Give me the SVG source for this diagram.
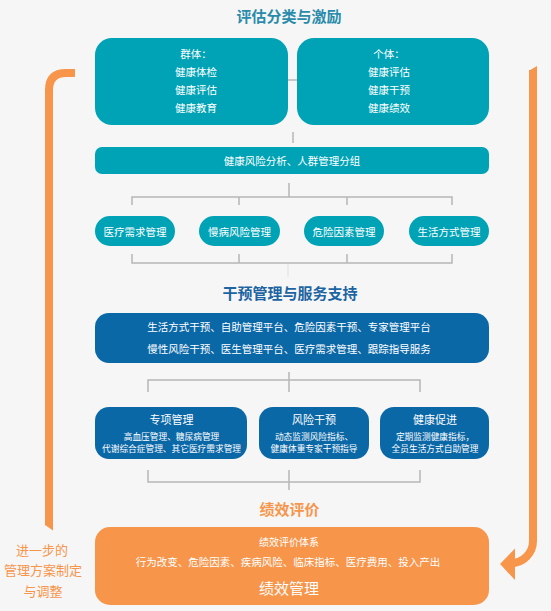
<svg xmlns="http://www.w3.org/2000/svg" width="551" height="611" viewBox="0 0 551 611">
<style>
text{font-family:"Noto Sans CJK SC","Noto Sans",sans-serif;text-anchor:middle;dominant-baseline:central}
.teal{fill:#00a3b5}
.blue{fill:#0b68a7}
.orange{fill:#f7954b}
.w{fill:#ffffff}
.t105{font-size:10.5px}
.t9{font-size:8.7px}
.t11{font-size:11px}
.h{font-size:15px;font-weight:bold}
.conn{fill:none;stroke:#b7b7b7;stroke-width:1.5}
.loop{fill:none;stroke:#f7954b;stroke-width:8}
</style>
<rect width="551" height="611" fill="#f6f6f6"/>

<g id="titles">
<text x="289" y="15" class="h" fill="#2a8bab">评估分类与激励</text>
<text x="290" y="292" class="h" fill="#1c64a2">干预管理与服务支持</text>
<text x="289.5" y="508" class="h" fill="#f7954b">绩效评价</text>
</g>

<g id="connectors">
<path class="conn" d="M288,80 H297"/>
<path class="conn" d="M293,132 V143"/>
<path class="conn" d="M289,183 V197 M132,205 V197 H452 V205 M239,197 V205 M347,197 V205"/>
<path class="conn" d="M132,254 V263 H452 V254 M239,254 V263 M347,254 V263"/>
<path d="M288,264 V277" fill="none" stroke="#e4e4e4" stroke-width="1.2"/>
<path class="conn" d="M289,372 V392 M148,392 V380 H420 V392"/>
<path class="conn" d="M148,470 V482 H420 V470 M289,470 V490"/>
</g>

<g id="loop-left">
<path class="loop" d="M49,525 V90 Q49,73 66,73 H75"/>
<polygon class="orange" points="45,525 53,525 53,530.5"/>
</g>
<g id="loop-right">
<path class="loop" d="M533,70 V541 A22,22 0 0 1 511,563 H510"/>
<polygon class="orange" points="529,70.7 537,66 537,70.7"/>
<polygon class="orange" points="500,564 515,548.5 515,580"/>
</g>

<g id="label-left" fill="#f7954b" font-size="13">
<text x="42" y="549" class="orange">进一步的</text>
<text x="43" y="569" class="orange">管理方案制定</text>
<text x="43" y="590" class="orange">与调整</text>
</g>

<g id="group-box">
<rect x="95" y="38" width="193" height="87" rx="17" class="teal"/>
<text x="196" y="53" class="w t105">群体：</text>
<text x="196" y="71" class="w t105">健康体检</text>
<text x="196" y="89" class="w t105">健康评估</text>
<text x="196" y="107" class="w t105">健康教育</text>
</g>
<g id="individual-box">
<rect x="297" y="38" width="192" height="87" rx="17" class="teal"/>
<text x="389" y="53" class="w t105">个体：</text>
<text x="389" y="71" class="w t105">健康评估</text>
<text x="389" y="89" class="w t105">健康干预</text>
<text x="389" y="107" class="w t105">健康绩效</text>
</g>

<g id="risk-analysis">
<rect x="95" y="147" width="394" height="27" rx="7" class="teal"/>
<text x="292" y="160.5" class="w t105">健康风险分析、人群管理分组</text>
</g>

<g id="pill-medical">
<rect x="95" y="216" width="80" height="30" rx="15" class="teal"/>
<text x="135" y="231" class="w t105">医疗需求管理</text>
</g>
<g id="pill-chronic">
<rect x="199" y="216" width="81" height="30" rx="15" class="teal"/>
<text x="239.5" y="231" class="w t105">慢病风险管理</text>
</g>
<g id="pill-risk">
<rect x="304" y="216" width="80" height="30" rx="15" class="teal"/>
<text x="344" y="231" class="w t105">危险因素管理</text>
</g>
<g id="pill-lifestyle">
<rect x="409" y="216" width="80" height="30" rx="15" class="teal"/>
<text x="449" y="231" class="w t105">生活方式管理</text>
</g>

<g id="service-box">
<rect x="95" y="313" width="394" height="50" rx="14" class="blue"/>
<text x="289" y="326.5" class="w t105">生活方式干预、自助管理平台、危险因素干预、专家管理平台</text>
<text x="289" y="348.5" class="w t105">慢性风险干预、医生管理平台、医疗需求管理、跟踪指导服务</text>
</g>

<g id="special-box">
<rect x="95" y="407" width="152" height="52" rx="14" class="blue"/>
<text x="171.5" y="419" class="w t11">专项管理</text>
<text x="171.5" y="436" class="w t9">高血压管理、糖尿病管理</text>
<text x="171.5" y="448" class="w t9">代谢综合症管理、其它医疗需求管理</text>
</g>
<g id="risk-box">
<rect x="259" y="407" width="110" height="52" rx="14" class="blue"/>
<text x="314" y="419" class="w t11">风险干预</text>
<text x="314" y="436" class="w t9">动态监测风险指标、</text>
<text x="314" y="448" class="w t9">健康体重专家干预指导</text>
</g>
<g id="promotion-box">
<rect x="380" y="407" width="109" height="52" rx="14" class="blue"/>
<text x="435" y="419" class="w t11">健康促进</text>
<text x="435" y="436" class="w t9">定期监测健康指标，</text>
<text x="435" y="448" class="w t9">全员生活方式自助管理</text>
</g>

<g id="performance-box">
<rect x="95" y="527" width="394" height="78" rx="15" class="orange"/>
<text x="289" y="541.5" class="w" font-size="10">绩效评价体系</text>
<text x="288" y="561.5" class="w t105">行为改变、危险因素、疾病风险、临床指标、医疗费用、投入产出</text>
<text x="289" y="587" class="w" font-size="15">绩效管理</text>
</g>
</svg>
